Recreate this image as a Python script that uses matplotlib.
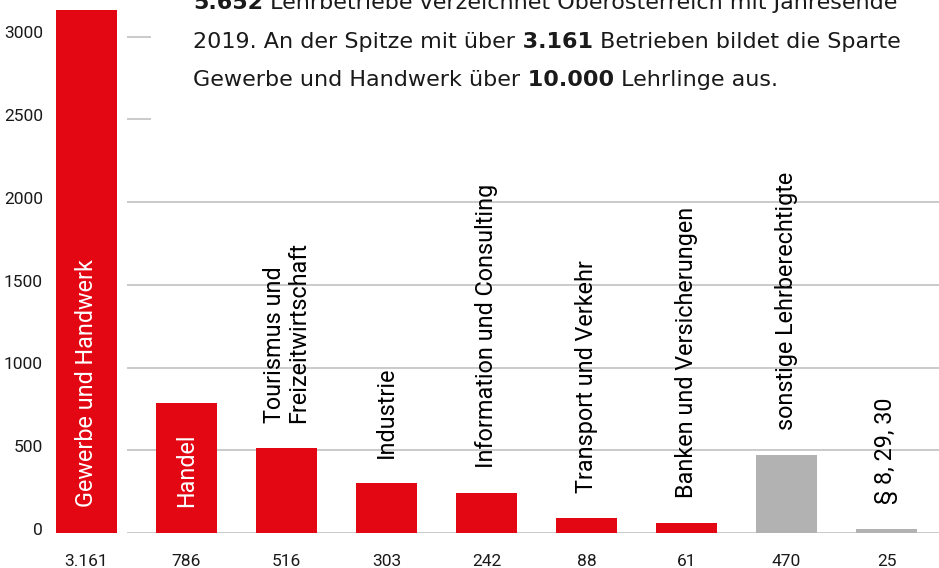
import matplotlib
matplotlib.use("Agg")
import matplotlib.pyplot as plt
from matplotlib.text import Annotation

# ---------------- data ----------------
categories = ["Gewerbe und Handwerk", "Handel", "Tourismus und\nFreizeitwirtschaft",
              "Industrie", "Information und Consulting", "Transport und Verkehr",
              "Banken und Versicherungen", "sonstige Lehrberechtigte", "§ 8, 29, 30"]
values = [3161, 786, 516, 303, 242, 88, 61, 470, 25]
value_labels = ["3.161", "786", "516", "303", "242", "88", "61", "470", "25"]
label_inside = [True, True, False, False, False, False, False, False, False]
is_other = [False, False, False, False, False, False, False, True, True]
yticks = [0, 500, 1000, 1500, 2000, 2500, 3000]
ytick_labels = ["0", "500", "1000", "1500", "2000", "2500", "3000"]

title_lines = [
    [("5.652", True), (" Lehrbetriebe verzeichnet Oberösterreich mit Jahresende", False)],
    [("2019. An der Spitze mit über", False), (" 3.161", True), (" Betrieben bildet die Sparte", False)],
    [("Gewerbe und Handwerk über", False), (" 10.000", True), (" Lehrlinge aus.", False)],
]

# ---------------- style ----------------
RED = "#e30613"
GRAY = "#b2b2b2"
GRID = "#c6c6c6"
FONT = "Roboto"
TITLE_FONT = "DejaVu Sans"
plt.rcParams["font.family"] = [FONT, "DejaVu Sans"]

W, H = 939, 568
fig = plt.figure(figsize=(W / 100, H / 100), dpi=100)
ax = fig.add_axes([36.5 / W, 35 / H, 902.5 / W, 533 / H])
ax.set_xlim(-0.5, 8.525)
ax.set_ylim(0, 3222)
ax.axis("off")

# gridlines (upper two are hidden behind the text block except for a short stub)
for yv in yticks:
    x_end = 8.525 if yv <= 2000 else 0.645
    ax.hlines(yv, 0.405, x_end, color=GRID, lw=1.3, zorder=0.5)

x = list(range(len(values)))
colors = [GRAY if o else RED for o in is_other]
ax.bar(x, values, width=0.61, color=colors, zorder=2)

# y tick labels
for yv, lab in zip(yticks, ytick_labels):
    ax.annotate(lab, xy=(-0.435, yv), xytext=(0, -1.2), textcoords="offset points",
                ha="right", va="baseline", fontsize=12.5, color="#1a1a1a")

# value labels under bars
for xi, lab in zip(x, value_labels):
    ax.annotate(lab, xy=(xi, 0), xytext=(0, -23.8), textcoords="offset points",
                ha="center", va="baseline", fontsize=12.5, color="#1a1a1a",
                annotation_clip=False)

# category labels (rotated)
for xi, v, cat, inside in zip(x, values, categories, label_inside):
    if inside:
        ax.annotate(cat, xy=(xi, 0), xytext=(0, 18.7), textcoords="offset points",
                    rotation=90, ha="center", va="bottom", multialignment="left",
                    fontsize=16.8, color="white", zorder=3)
    else:
        ax.annotate(cat, xy=(xi, v), xytext=(0, 18), textcoords="offset points",
                    rotation=90, ha="center", va="bottom", multialignment="left",
                    fontsize=16.8, color="black", zorder=3, linespacing=1.05)

# title block with bold parts
x0 = 193 / W
baselines = [9, 47.7, 86.3]
for line, bpx in zip(title_lines, baselines):
    prev = None
    for txt, bold in line:
        kw = dict(fontsize=16, fontweight="bold" if bold else "normal", color="#1a1a1a",
                  family=[TITLE_FONT])
        if prev is None:
            prev = fig.text(x0, 1 - bpx / H, txt, ha="left", va="baseline", **kw)
        else:
            a = Annotation(txt, xy=(1, 0), xycoords=prev, xytext=(0, 0),
                           textcoords="offset points", ha="left", va="bottom", **kw)
            fig.add_artist(a)
            prev = a

fig.savefig("out.png", dpi=100)
